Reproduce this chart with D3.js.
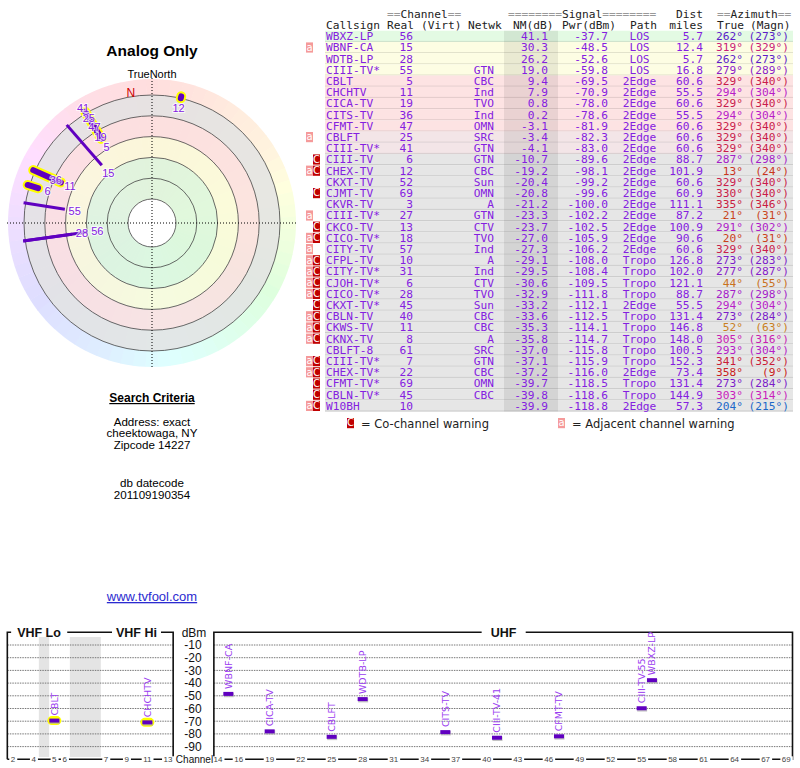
<!DOCTYPE html>
<html><head><meta charset="utf-8">
<script src="https://cdn.jsdelivr.net/npm/d3@7"></script>
<style>body{margin:0;background:#fff} svg{display:block}</style>
</head><body>
<svg id="chart" width="800" height="768"></svg>
<script>
// station list, one entry per table row
const callsigns = ["WBXZ-LP","WBNF-CA","WDTB-LP","CIII-TV*","CBLT","CHCHTV","CICA-TV","CITS-TV","CFMT-TV","CBLFT","CIII-TV*","CIII-TV","CHEX-TV","CKXT-TV","CJMT-TV","CKVR-TV","CIII-TV*","CKCO-TV","CICO-TV*","CITY-TV","CFPL-TV","CITY-TV*","CJOH-TV*","CICO-TV*","CKXT-TV*","CBLN-TV","CKWS-TV","CKNX-TV","CBLFT-8","CIII-TV*","CHEX-TV*","CFMT-TV*","CBLN-TV*","W10BH"];
const channels = [56,15,28,55,5,11,19,36,47,25,41,6,12,52,69,3,27,13,18,57,10,31,6,28,45,40,11,8,61,7,22,69,45,10];
const networks = ["","","","GTN","CBC","Ind","TVO","Ind","OMN","SRC","GTN","GTN","CBC","Sun","OMN","A","GTN","CTV","TVO","Ind","A","Ind","CTV","TVO","Sun","CBC","CBC","A","SRC","GTN","CBC","OMN","CBC",""];
const nmDb = [41.1,30.3,26.2,19.0,9.4,7.9,0.8,0.2,-3.1,-3.4,-4.1,-10.7,-19.2,-20.4,-20.8,-21.2,-23.3,-23.7,-27.0,-27.3,-29.1,-29.5,-30.6,-32.9,-33.2,-33.6,-35.3,-35.8,-37.0,-37.1,-37.2,-39.7,-39.8,-39.9];
const pwrDbm = [-37.7,-48.5,-52.6,-59.8,-69.5,-70.9,-78.0,-78.6,-81.9,-82.3,-83.0,-89.6,-98.1,-99.2,-99.6,-100.0,-102.2,-102.5,-105.9,-106.2,-108.0,-108.4,-109.5,-111.8,-112.1,-112.5,-114.1,-114.7,-115.8,-115.9,-116.0,-118.5,-118.6,-118.8];
const paths = ["LOS","LOS","LOS","LOS","2Edge","2Edge","2Edge","2Edge","2Edge","2Edge","2Edge","2Edge","2Edge","2Edge","2Edge","2Edge","2Edge","2Edge","2Edge","2Edge","Tropo","Tropo","Tropo","Tropo","2Edge","Tropo","Tropo","Tropo","Tropo","Tropo","2Edge","Tropo","Tropo","2Edge"];
const distMiles = [5.7,12.4,5.7,16.8,60.6,55.5,60.6,55.5,60.6,60.6,60.6,88.7,101.9,60.6,60.9,111.1,87.2,100.9,90.6,60.6,126.8,102.0,121.1,88.7,55.5,131.4,146.8,148.0,100.5,152.3,73.4,131.4,144.9,57.3];
const azTrue = [262,319,262,279,329,294,329,294,329,329,329,287,13,329,330,335,21,291,20,329,273,277,44,287,294,273,52,305,293,341,358,273,303,204];
const azMagn = [273,329,273,289,340,304,340,304,340,340,340,298,24,340,340,346,31,302,31,340,283,287,55,298,304,284,63,316,304,352,9,284,314,215];
const warnings = ["","a","","","","","","","","a","","C","aC","","C","","a","C","aC","a","aC","aC","aC","aC","C","aC","aC","aC","","aC","aC","C","C","aC"];

// bottom chart ticks
const vhfTicks = [2,4,5,6,7,9,11,13];
const uhfTicks = [14,16,19,22,25,28,31,34,37,40,43,46,49,52,55,58,61,64,67,69];
const dbmTicks = [-10,-20,-30,-40,-50,-60,-70,-80,-90];

const searchLines = ["Address: exact","cheektowaga, NY","Zipcode 14227"];
const dateLines = ["db datecode","201109190354"];

const PURPLE = "#8420e0";
const MARK = "#6000c0";
const MONO = "'DejaVu Sans Mono', monospace";
const SANS = "'Liberation Sans', Arial, sans-serif";
const VERD = "'DejaVu Sans', Verdana, sans-serif";

const svg = d3.select("#chart");
svg.append("rect").attr("width", 800).attr("height", 768).attr("fill", "#fff");

const hueOf = d3.scaleLinear().domain([0,60,120,200,262,300,330,360]).range([0,40,120,210,262,300,345,360]);
const azColor = az => d3.hsl(hueOf(az), 0.75, 0.45) + "";
const idx = d3.range(callsigns.length);

// ---------------- left column text ----------------
svg.append("text").attr("x", 152).attr("y", 56).attr("text-anchor", "middle")
  .style("font", `bold 15.5px ${SANS}`).text("Analog Only");
svg.append("text").attr("x", 152).attr("y", 78).attr("text-anchor", "middle")
  .style("font", `11px ${SANS}`).text("TrueNorth");
svg.append("text").attr("x", 152).attr("y", 402).attr("text-anchor", "middle")
  .style("font", `bold 12px ${SANS}`).style("text-decoration", "underline").text("Search Criteria");
searchLines.forEach((s, i) => svg.append("text").attr("x", 152).attr("y", 425.5 + i * 11.6)
  .attr("text-anchor", "middle").style("font", `11.6px ${SANS}`).text(s));
dateLines.forEach((s, i) => svg.append("text").attr("x", 152).attr("y", 487 + i * 11.6)
  .attr("text-anchor", "middle").style("font", `11.6px ${SANS}`).text(s));
svg.append("text").attr("x", 152).attr("y", 601).attr("text-anchor", "middle")
  .style("font", `13px ${SANS}`).style("text-decoration", "underline").attr("fill", "#2b2bd0")
  .text("www.tvfool.com");

// ---------------- polar plot ----------------
const cx = 152, cy = 223;
const rad = a => a * Math.PI / 180;
const pt = (az, r) => [cx + r * Math.sin(rad(az)), cy - r * Math.cos(rad(az))];
const polar = svg.append("g");
const pg = polar.append("g").attr("transform", `translate(${cx},${cy})`);

// pale hue wheel
const wedge = d3.arc().innerRadius(0).outerRadius(144);
d3.range(0, 360, 5).forEach(a => {
  pg.append("path").attr("d", wedge({startAngle: rad(a - 2.5), endAngle: rad(a + 2.7)}))
    .attr("fill", d3.hsl(hueOf(a), 1, 0.935) + "");
});

// signal bands
const ringR = d3.scaleLinear().domain([0, 5]).range([24, 128]);
const bandFrom = [0, 2, 3, 4], bandTo = [2, 3, 4, 5];
const bandColors = ["#dcf7dc", "#fafad9", "#fbdfdf", "#e3e3e3"];
const band = d3.arc();
bandFrom.forEach((f, i) => {
  pg.append("path").attr("d", band({innerRadius: ringR(f), outerRadius: ringR(bandTo[i]), startAngle: 0, endAngle: 2 * Math.PI}))
    .attr("fill", bandColors[i]).attr("opacity", 0.85);
});
pg.append("circle").attr("r", ringR(0)).attr("fill", "#fff");
d3.range(6).forEach(k => pg.append("circle").attr("r", ringR(k)).attr("fill", "none")
  .attr("stroke", "#444").attr("stroke-width", 0.8));

// crosshair
pg.append("line").attr("x1", 0).attr("x2", 0).attr("y1", -145).attr("y2", 145)
  .attr("stroke", "#000").attr("stroke-width", 1).attr("stroke-dasharray", "1,2");
pg.append("line").attr("y1", 0).attr("y2", 0).attr("x1", -145).attr("x2", 145)
  .attr("stroke", "#000").attr("stroke-width", 1).attr("stroke-dasharray", "1,2");

// magnetic north
const decl = azMagn[0] - azTrue[0];
const nPos = pt(-decl, 133);
polar.append("text").attr("x", nPos[0]).attr("y", nPos[1]).attr("dy", "0.35em")
  .style("font", `12px ${SANS}`).attr("fill", "#cc0000").text("N");

// stations
const rScale = d3.scaleLinear().domain([40, -20]).range([66.4, 128.8]);
const R_OUT = 130;
const shown = idx.filter(i => nmDb[i] > -20);
const vhf = shown.filter(i => channels[i] <= 13);
const uhf = shown.filter(i => channels[i] > 13);
const seg = i => { const r = rScale(nmDb[i]); return [pt(azTrue[i], r), pt(azTrue[i], Math.max(r, R_OUT))]; };

vhf.forEach(i => { const [a, b] = seg(i);
  polar.append("line").attr("x1", a[0]).attr("y1", a[1]).attr("x2", b[0]).attr("y2", b[1])
    .attr("stroke", "#ffff00").attr("stroke-width", 10).attr("stroke-linecap", "round"); });
uhf.forEach(i => { const [a, b] = seg(i);
  polar.append("line").attr("x1", a[0]).attr("y1", a[1]).attr("x2", b[0]).attr("y2", b[1])
    .attr("stroke", MARK).attr("stroke-width", 3); });
vhf.forEach(i => { const [a, b] = seg(i);
  polar.append("line").attr("x1", a[0]).attr("y1", a[1]).attr("x2", b[0]).attr("y2", b[1])
    .attr("stroke", MARK).attr("stroke-width", 6).attr("stroke-linecap", "round"); });

// labels, pushed outward when they collide
const placed = [];
shown.slice().sort((a, b) => nmDb[b] - nmDb[a]).forEach(i => {
  const txt = String(channels[i]);
  const w = 6.2 * txt.length + 1, h = 9;
  let lr = rScale(nmDb[i]) - 10, p = pt(azTrue[i], lr);
  const hit = q => placed.some(o => Math.abs(o.x - q[0]) < (o.w + w) / 2 && Math.abs(o.y - q[1]) < h);
  while (hit(p)) { lr += 1.5; p = pt(azTrue[i], lr); }
  placed.push({x: p[0], y: p[1], w});
  polar.append("text").attr("x", p[0]).attr("y", p[1]).attr("dy", "0.36em").attr("text-anchor", "middle")
    .style("font", `11px ${SANS}`).attr("fill", PURPLE)
    .attr("stroke", "#fff").attr("stroke-width", 2).attr("stroke-opacity", 0.75)
    .style("paint-order", "stroke").text(txt);
});

// ---------------- table ----------------
const table = svg.append("g");
const rowY = d3.scaleBand().domain(idx).range([30.7, 30.7 + 11.2 * idx.length]);
const rowColor = d3.scaleThreshold().domain([-5, -3.3, 10, 35])
  .range(["#e6e6e6", "#f3e5e7", "#fde3e3", "#fdfde3", "#e3fae3"]);

idx.forEach(i => {
  const c = rowColor(nmDb[i]);
  table.append("rect").attr("x", 325).attr("y", rowY(i)).attr("width", 468).attr("height", rowY.bandwidth()).attr("fill", c);
  table.append("line").attr("x1", 325).attr("x2", 793).attr("y1", rowY(i) + rowY.bandwidth() - 0.5)
    .attr("y2", rowY(i) + rowY.bandwidth() - 0.5).attr("stroke", d3.color(c).darker(0.35) + "").attr("stroke-width", 1);
});
table.append("rect").attr("x", 504).attr("y", rowY(0)).attr("width", 54)
  .attr("height", rowY.bandwidth() * idx.length).attr("fill", "#000").attr("opacity", 0.075);

function headerText(x, y, str, anchor) {
  const t = table.append("text").attr("x", x).attr("y", y).attr("text-anchor", anchor || "start")
    .style("font", `11.2px ${MONO}`).style("white-space", "pre");
  str.split(/(=+)/).filter(s => s.length).forEach(s =>
    t.append("tspan").attr("fill", s[0] === "=" ? "#999" : "#222").text(s));
}
headerText(387, 18, "==Channel==");
headerText(508, 18, "========Signal========");
headerText(703, 18, "Dist", "end");
headerText(717, 18, "==Azimuth==");
headerText(326, 29, "Callsign");
headerText(387, 29, "Real");
headerText(421, 29, "(Virt)");
headerText(468, 29, "Netwk");
headerText(513, 29, "NM(dB)");
headerText(562, 29, "Pwr(dBm)");
headerText(630, 29, "Path");
headerText(703, 29, "miles", "end");
headerText(717, 29, "True");
headerText(750, 29, "(Magn)");

function cell(i, x, txt, anchor, color) {
  table.append("text").attr("x", x).attr("y", rowY(i) + 9.4).attr("text-anchor", anchor)
    .style("font", `11.2px ${MONO}`).attr("fill", color || PURPLE).text(txt);
}
idx.forEach(i => {
  cell(i, 326, callsigns[i], "start");
  cell(i, 413, channels[i], "end");
  cell(i, 494, networks[i], "end");
  cell(i, 548, nmDb[i].toFixed(1), "end");
  cell(i, 608, pwrDbm[i].toFixed(1), "end");
  cell(i, 639.5, paths[i], "middle");
  cell(i, 703, distMiles[i].toFixed(1), "end");
  cell(i, 743, azTrue[i] + "°", "end", azColor(azTrue[i]));
  cell(i, 789, "(" + azMagn[i] + "°)", "end", azColor(azTrue[i]));
});

function warnBox(g, x, y, kind) {
  g.append("rect").attr("x", x).attr("y", y).attr("width", 7).attr("height", 10.2)
    .attr("fill", kind === "C" ? "#c00000" : "#f59a9a");
  g.append("text").attr("x", x + 3.5).attr("y", y + 8.4).attr("text-anchor", "middle")
    .style("font", `10px ${VERD}`).attr("fill", "#fff").text(kind === "C" ? "C" : "a");
}
idx.forEach(i => {
  const y = rowY(i) + 0.5;
  if (warnings[i].includes("a")) warnBox(table, 306, y, "a");
  if (warnings[i].includes("C")) warnBox(table, 313, y, "C");
});
warnBox(table, 347, 418, "C");
table.append("text").attr("x", 361).attr("y", 427.5).style("font", `11.5px ${VERD}`).attr("fill", "#222")
  .text("= Co-channel warning");
warnBox(table, 558, 418, "a");
table.append("text").attr("x", 572).attr("y", 427.5).style("font", `11.5px ${VERD}`).attr("fill", "#222")
  .text("= Adjacent channel warning");

// ---------------- spectrum chart ----------------
const spec = svg.append("g");
const yDbm = d3.scaleLinear().domain([0, -100]).range([632.3, 759.3]);
const slotOf = ch => ch <= 4 ? ch - 2 : ch <= 6 ? ch - 1 : ch + 2;
const vhfX = d3.scaleLinear().domain([0, 15]).range([13, 168]);
const uhfX = d3.scaleLinear().domain([14, 69]).range([218, 786.3]);
const vx0 = vhfX(-0.55), vx1 = vhfX(15.5), ux0 = uhfX(13.6), ux1 = uhfX(69.6);

// unused channel gaps in VHF
[[2.5, 3.5], [5.5, 8.5]].forEach(([a, b]) => spec.append("rect").attr("x", vhfX(a)).attr("y", 637)
  .attr("width", vhfX(b) - vhfX(a)).attr("height", 120).attr("fill", "#e4e4e4"));

// grid
dbmTicks.forEach(v => {
  [[vx0, vx1], [ux0, ux1]].forEach(([a, b]) => spec.append("line").attr("x1", a).attr("x2", b)
    .attr("y1", yDbm(v)).attr("y2", yDbm(v)).attr("stroke", "#777").attr("stroke-width", 1).attr("stroke-dasharray", "1.5,1"));
  spec.append("text").attr("x", 193).attr("y", yDbm(v)).attr("dy", "0.36em").attr("text-anchor", "middle")
    .style("font", `12px ${SANS}`).attr("fill", "#111").text(v);
});
spec.append("text").attr("x", 194).attr("y", yDbm(0)).attr("dy", "0.36em").attr("text-anchor", "middle")
  .style("font", `12px ${SANS}`).attr("fill", "#111").text("dBm");

// frames
[[vx0, vx1], [ux0, ux1]].forEach(([a, b]) => spec.append("path")
  .attr("d", `M${a},${yDbm(-100)}V${yDbm(0)}H${b}V${yDbm(-100)}H${a}`)
  .attr("fill", "none").attr("stroke", "#111").attr("stroke-width", 1.6));

function gapLabel(x, y, txt, font, color, pad) {
  const t = spec.append("text").attr("x", x).attr("y", y).attr("dy", "0.36em").attr("text-anchor", "middle")
    .style("font", font).attr("fill", color).text(txt);
  const bb = t.node().getBBox();
  spec.insert("rect", () => t.node()).attr("x", bb.x - pad).attr("y", y - 3).attr("width", bb.width + 2 * pad)
    .attr("height", 6).attr("fill", "#fff");
}
gapLabel(39, yDbm(0), "VHF Lo", `bold 12.5px ${SANS}`, "#111", 6);
gapLabel(136.5, yDbm(0), "VHF Hi", `bold 12.5px ${SANS}`, "#111", 4);
gapLabel(503.5, yDbm(0), "UHF", `bold 12.5px ${SANS}`, "#111", 9);
vhfTicks.forEach(c => gapLabel(vhfX(slotOf(c)), yDbm(-100), c, `8px ${SANS}`, "#444", 1.5));
uhfTicks.forEach(c => gapLabel(uhfX(c), yDbm(-100), c, `8px ${SANS}`, "#444", 1.5));
spec.append("text").attr("x", 194.5).attr("y", yDbm(-100)).attr("dy", "0.36em").attr("text-anchor", "middle")
  .style("font", `10px ${SANS}`).attr("fill", "#111").text("Channel");

// station markers
const specRows = idx.filter(i => nmDb[i] > -5);
specRows.forEach(i => {
  const ch = channels[i];
  const x = ch <= 13 ? vhfX(slotOf(ch)) : uhfX(ch);
  const y = yDbm(pwrDbm[i]);
  if (ch <= 13) spec.append("rect").attr("x", x - 7).attr("y", y - 4.5).attr("width", 14).attr("height", 9)
    .attr("rx", 4.5).attr("fill", "#ffff00");
  spec.append("rect").attr("x", x - 4.5).attr("y", y - 1.2).attr("width", 10).attr("height", 4.5).attr("fill", "#aaa").attr("opacity", 0.7);
  spec.append("rect").attr("x", x - 5).attr("y", y - 2).attr("width", 10).attr("height", 4).attr("fill", MARK);
  const name = callsigns[i].replace("*", "-" + ch);
  spec.append("text").attr("transform", `translate(${x},${y - 5}) rotate(-90)`).attr("dy", "0.35em")
    .style("font", `9.5px ${VERD}`).attr("fill", "#9a3cf0").text(name);
});
</script>
</body></html>
